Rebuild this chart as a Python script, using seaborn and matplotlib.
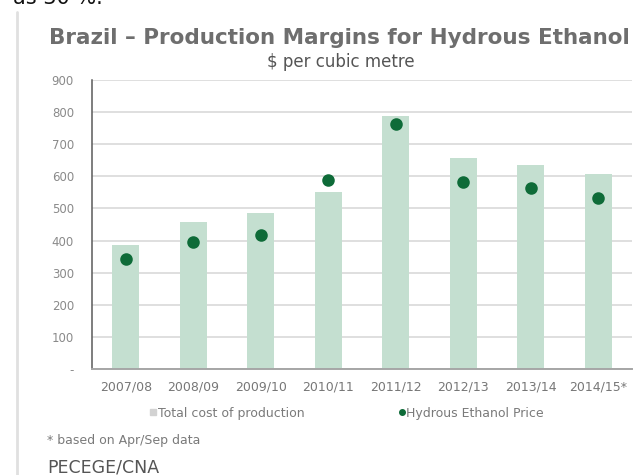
import seaborn as sns
from matplotlib import pyplot as plt
from matplotlib.lines import Line2D

# Data ($ per cubic metre)
seasons = ['2007/08', '2008/09', '2009/10', '2010/11', '2011/12', '2012/13', '2013/14', '2014/15*']
total_cost = [387, 459, 485, 552, 787, 657, 636, 608]
ethanol_price = [343, 397, 416, 589, 764, 582, 565, 534]
y_ticks = [0, 100, 200, 300, 400, 500, 600, 700, 800, 900]
y_labels = ['-', '100', '200', '300', '400', '500', '600', '700', '800', '900']

bar_green = '#c4dfd0'
dot_green = '#0e6b38'

sns.set_theme(style='white')
plt.rcParams['font.family'] = ['DejaVu Sans']

fig = plt.figure(figsize=(6.37, 4.75), dpi=100)
ax = fig.add_axes([0.1444, 0.2232, 0.8476, 0.6084])

sns.barplot(x=seasons, y=total_cost, color=bar_green, width=0.4,
            saturation=1, linewidth=0, ax=ax, zorder=2)
sns.pointplot(x=seasons, y=ethanol_price, color=dot_green, linestyle='none',
              markers='o', markersize=7, ax=ax, zorder=3)

ax.set_ylim(0, 900)
ax.set_xlim(-0.5, 7.5)
ax.set_yticks(y_ticks)
ax.set_yticklabels(y_labels)
ax.yaxis.grid(True, color='#d6d6d6', linewidth=1.1, zorder=0)
ax.set_axisbelow(True)
ax.tick_params(axis='y', labelsize=8.5, colors='#8a8a8a', length=0, pad=13)
ax.tick_params(axis='x', labelsize=9, colors='#777777', length=0, pad=8)
for s in ['top', 'right']:
    ax.spines[s].set_visible(False)
ax.spines['left'].set_color('#5a5a5a')
ax.spines['left'].set_linewidth(1.1)
ax.spines['bottom'].set_color('#a6a6a6')
ax.spines['bottom'].set_linewidth(1.4)

# Legend
handles = [Line2D([], [], marker='s', linestyle='none', color='#d2d2d2', markersize=5),
           Line2D([], [], marker='o', linestyle='none', color=dot_green, markersize=4)]
fig.legend(handles, ['Total cost of production', 'Hydrous Ethanol Price'],
           loc='center', bbox_to_anchor=(0.544, 0.1305), ncol=2, frameon=False,
           fontsize=9, labelcolor='#7a7a7a', handletextpad=0.05,
           columnspacing=7.5, handlelength=0.6)

# Titles and notes
fig.text(0.077, 0.92, 'Brazil \u2013 Production Margins for Hydrous Ethanol',
         fontsize=15.5, fontweight='bold', color='#6e6e6e', va='center')
fig.text(0.535, 0.869, '\\$ per cubic metre', fontsize=12, color='#555555',
         ha='center', va='center')
fig.text(0.074, 0.0716, '* based on Apr/Sep data', fontsize=9, color='#7a7a7a',
         va='center')
fig.text(0.074, 0.0168, 'PECEGE/CNA', fontsize=12.5, color='#555555', va='center')
fig.text(0.02, 0.9916, 'as 30 %.', fontsize=15, color='#111111', va='baseline')

# page border line on the left
fig.add_artist(Line2D([0.026, 0.026], [0.0, 0.975], color='#e0e0e0', linewidth=2))

plt.savefig('out.png', dpi=100)
